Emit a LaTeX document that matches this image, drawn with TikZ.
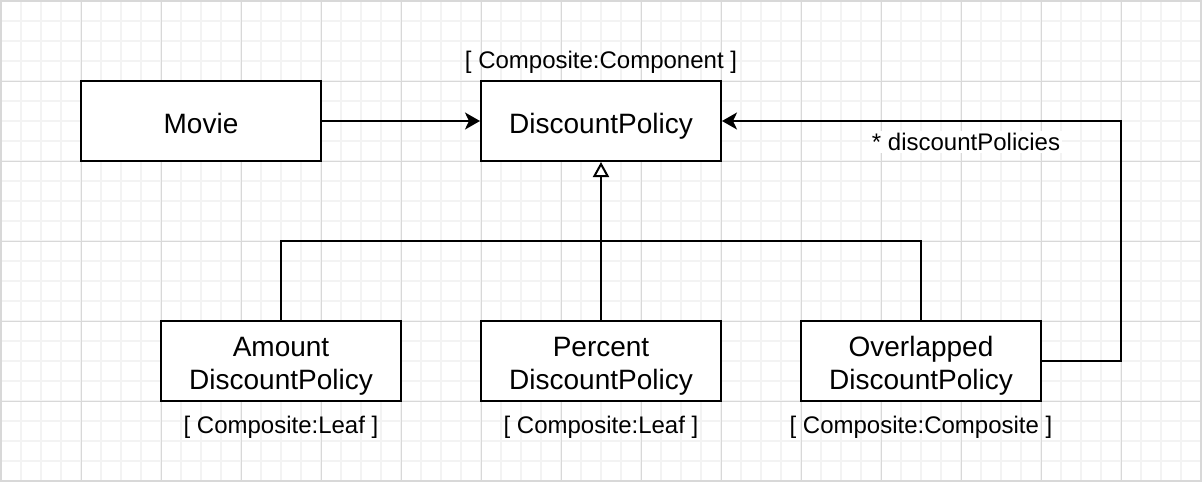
\documentclass[tikz,border=0pt]{standalone}
\usepackage{fontspec}
\setmainfont{Liberation Sans}
\usetikzlibrary{arrows.meta}
\definecolor{gridminor}{HTML}{F3F3F3}
\definecolor{gridmajor}{HTML}{D8D8D8}
\tikzset{
  box/.style={draw, line width=2pt, minimum width=240pt, minimum height=80pt,
    font=\fontsize{28}{33}\selectfont, align=center, fill=white, inner sep=0pt},
  oneline/.style={text height=24pt, text depth=0pt},
  twoline/.style={text height=57pt, text depth=0pt},
  lbl/.style={font=\fontsize{24}{28}\selectfont, inner sep=1pt},
  conn/.style={line width=2pt},
  filledtip/.style={-{Stealth[length=15pt,width=17pt,inset=4pt]}},
  opentip/.style={-{Triangle[open,length=15pt,width=16pt,fill=white]}}
}
\begin{document}
\begin{tikzpicture}[x=1pt,y=-1pt]
\useasboundingbox (0,0) rectangle (1202,482);
\fill[white] (0,0) rectangle (1202,482);
\foreach \x in {0,20,...,1200} \draw[gridminor,line width=1.5pt] (\x+1,0) -- (\x+1,482);
\foreach \y in {0,20,...,480} \draw[gridminor,line width=1.5pt] (0,\y+1) -- (1202,\y+1);
\foreach \x in {0,80,...,1200} \draw[gridmajor,line width=1pt] (\x+1,0) -- (\x+1,482);
\foreach \y in {0,80,...,480} \draw[gridmajor,line width=1pt] (0,\y+1) -- (1202,\y+1);
\draw[gridmajor,line width=2pt] (1,1) rectangle (1201,481);

\node[box,oneline] (movie) at (201,121) {Movie};
\node[box,oneline] (dp) at (601,121) {DiscountPolicy};
\node[box,twoline] (amt) at (281,361) {Amount\\DiscountPolicy};
\node[box,twoline] (pct) at (601,361) {Percent\\DiscountPolicy};
\node[box,twoline] (ovl) at (921,361) {Overlapped\\DiscountPolicy};

\node[lbl] (lcomp) at (601,62) {[ Composite:Component ]};
\node[lbl] (lamt) at (281,427) {[ Composite:Leaf ]};
\node[lbl] (lpct) at (601,427) {[ Composite:Leaf ]};
\node[lbl] (lovl) at (921,427) {[ Composite:Composite ]};

\coordinate (bus) at (601,241);
\coordinate (rc) at (1121,241);

\draw[conn,filledtip] (movie.east) -- (dp.west);
\draw[conn] (amt.north) |- (bus) -| (ovl.north);
\draw[conn,opentip] (pct.north) -- (dp.south);
\draw[conn,filledtip] (ovl.east) -| (rc) |- (dp.east);
\node[lbl, fill=white, inner sep=2pt] (lpol) at (966,142) {* discountPolicies};
\end{tikzpicture}
\end{document}
